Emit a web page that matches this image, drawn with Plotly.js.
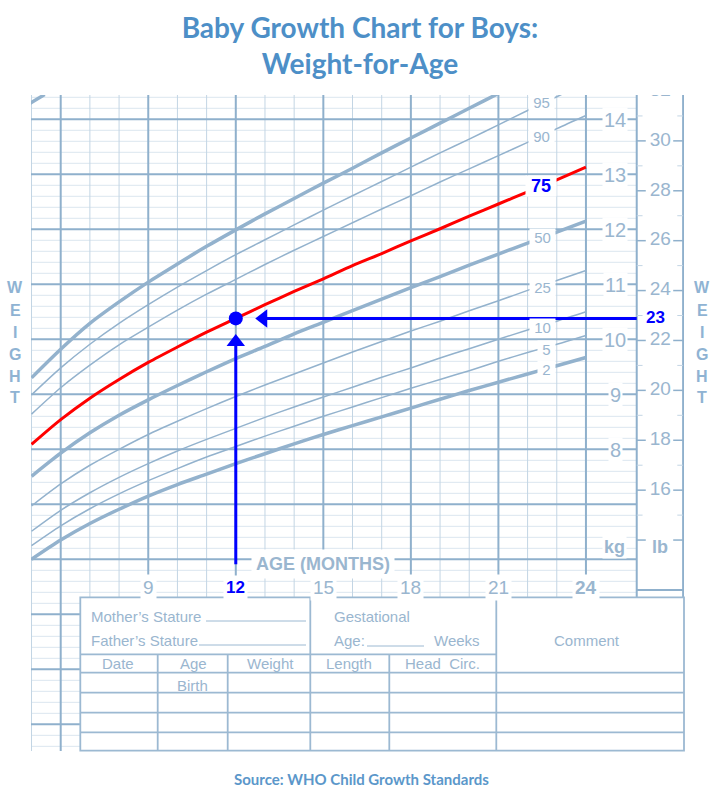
<!DOCTYPE html>
<html>
<head>
<meta charset="utf-8">
<script src="https://cdn.plot.ly/plotly-3.0.1.min.js"></script>
<style>
  html, body { margin: 0; padding: 0; background: #fff; }
  #chart { width: 720px; height: 807px; }
</style>
</head>
<body>
<div id="chart"></div>
<script>
// WHO weight-for-age, boys, kg by month
const ages = [5, 6, 7, 8, 9, 10, 11, 12, 13, 14, 15, 16, 17, 18, 19, 20, 21, 22, 23, 24];
const p2  = [6.00, 6.35, 6.65, 6.91, 7.15, 7.36, 7.55, 7.74, 7.92, 8.10, 8.27, 8.43, 8.59, 8.75, 8.91, 9.07, 9.22, 9.37, 9.52, 9.67];
const p5  = [6.25, 6.61, 6.92, 7.19, 7.43, 7.65, 7.86, 8.05, 8.24, 8.42, 8.60, 8.77, 8.94, 9.11, 9.27, 9.43, 9.60, 9.76, 9.91, 10.07];
const p10 = [6.51, 6.89, 7.21, 7.49, 7.74, 7.97, 8.18, 8.38, 8.58, 8.77, 8.95, 9.13, 9.31, 9.48, 9.66, 9.83, 10.00, 10.17, 10.33, 10.50];
const p25 = [6.97, 7.37, 7.71, 8.00, 8.27, 8.51, 8.74, 8.96, 9.17, 9.37, 9.57, 9.77, 9.96, 10.15, 10.33, 10.52, 10.70, 10.89, 11.07, 11.25];
const p50 = [7.51, 7.93, 8.30, 8.62, 8.90, 9.16, 9.41, 9.65, 9.87, 10.10, 10.31, 10.52, 10.73, 10.94, 11.14, 11.35, 11.55, 11.75, 11.95, 12.15];
const p75 = [8.09, 8.54, 8.93, 9.27, 9.58, 9.86, 10.13, 10.38, 10.63, 10.87, 11.10, 11.34, 11.56, 11.79, 12.01, 12.24, 12.46, 12.68, 12.90, 13.13];
const p90 = [8.64, 9.12, 9.53, 9.90, 10.22, 10.53, 10.82, 11.09, 11.36, 11.62, 11.87, 12.12, 12.37, 12.61, 12.86, 13.10, 13.34, 13.58, 13.83, 14.07];
const p95 = [8.99, 9.48, 9.91, 10.29, 10.63, 10.95, 11.25, 11.54, 11.81, 12.08, 12.35, 12.61, 12.87, 13.13, 13.39, 13.64, 13.90, 14.16, 14.41, 14.67];
const p98 = [9.30, 9.82, 10.29, 10.68, 11.04, 11.37, 11.69, 11.99, 12.28, 12.56, 12.84, 13.11, 13.39, 13.66, 13.93, 14.20, 14.47, 14.74, 15.01, 15.28];

// cropped bit of a curve from the chart above, top-left corner
const edgeAges = [4.95, 5.45];
const edgeKgs = [14.29, 14.45];

const pctLabels = ['95', '90', '75', '50', '25', '10', '5', '2'];
const pctLabelAges = [22.47, 22.47, 22.45, 22.5, 22.5, 22.5, 22.65, 22.65];
const pctLabelKgs = [14.30, 13.68, 12.79, 11.86, 10.95, 10.21, 9.82, 9.46];

const ageTicks = [9, 12, 15, 18, 21, 24];
const kgTicks = [8, 9, 10, 11, 12, 13, 14];
const lbTicks = [16, 18, 20, 22, 24, 26, 28, 30, 32];

// the example reading: 12 months, 23 lb
const pointAge = 12;
const pointKg = 10.38;
const pointLb = 23;

const LB = 0.45359237;

// plot area in page pixels
const PL = 31, PR = 684, PT = 95, PB = 751;
const X_MIN = 4.982, X_MAX = 27.36, X_KG = 25.74, X_LB_END = 27.33;
const Y_MIN = 2.515, Y_MAX = 14.442;

const MAJOR = '#8fb0cc';
const MINOR_V = '#c3d5e4';
const MINOR_H = '#dbe6ef';
const CURVE = '#93b2cd';
const TXT = '#9ab6cf';
const BLUE = '#0000ff';
const RED = '#ff0000';
const SANS = 'Liberation Sans, Arial, sans-serif';
const NB = '\u00a0';

const px = v => (v - PL) / (PR - PL);
const py = v => (PB - v) / (PB - PT);

function dataLine(x0, y0, x1, y1, color, width) {
  return { type: 'line', xref: 'x', yref: 'y', x0, y0, x1, y1, line: { color, width }, layer: 'below' };
}

function tableLine(x0, y0, x1, y1, width) {
  return {
    type: 'line', xref: 'paper', yref: 'paper',
    x0: px(x0), y0: py(y0), x1: px(x1), y1: py(y1),
    line: { color: '#9cb9d2', width: width || 1.8 }, layer: 'above'
  };
}

function label(opts) {
  return Object.assign({ showarrow: false, xanchor: 'center', yanchor: 'middle' }, opts);
}

function buildShapes() {
  const shapes = [];

  // light horizontal lines every 0.2 kg
  for (let k = 13; k <= 72; k++) {
    if (k % 5 === 0) continue;
    shapes.push(dataLine(X_MIN, k / 5, X_KG, k / 5, MINOR_H, 1));
  }
  // monthly verticals
  for (let m = 5; m <= 24; m++) {
    if (m % 3 === 0) continue;
    shapes.push(dataLine(m, Y_MIN, m, Y_MAX, MINOR_V, 1));
  }
  // heavy kg lines
  for (let kg = 3; kg <= 14; kg++) {
    shapes.push(dataLine(X_MIN, kg, X_KG, kg, MAJOR, 2));
  }
  // heavy 3-month lines
  for (let m = 6; m <= 24; m += 3) {
    shapes.push(dataLine(m, Y_MIN, m, Y_MAX, MAJOR, 2));
  }
  // kg / lb column borders
  shapes.push(dataLine(X_KG, Y_MIN, X_KG, Y_MAX, MAJOR, 2));
  shapes.push(dataLine(X_LB_END, Y_MIN, X_LB_END, Y_MAX, MAJOR, 2));
  shapes.push(dataLine(X_KG, 5.44, X_LB_END, 5.44, MAJOR, 2));

  // lb ticks
  for (let lb = 14; lb <= 32; lb += 2) {
    shapes.push(dataLine(X_KG, lb * LB, X_KG + 0.31, lb * LB, MAJOR, 1.5));
    shapes.push(dataLine(X_LB_END - 0.34, lb * LB, X_LB_END, lb * LB, MAJOR, 1.5));
  }
  for (let lb = 15; lb <= 31; lb += 2) {
    shapes.push(dataLine(X_KG, lb * LB, X_KG + 0.2, lb * LB, MINOR_V, 1));
    shapes.push(dataLine(X_LB_END - 0.2, lb * LB, X_LB_END, lb * LB, MINOR_V, 1));
  }

  // record table
  shapes.push({
    type: 'rect', xref: 'paper', yref: 'paper',
    x0: px(80.3), y0: py(750.7), x1: px(684), y1: py(597.3),
    fillcolor: 'white', line: { color: '#9cb9d2', width: 1.8 }, layer: 'above'
  });
  shapes.push(tableLine(80.3, 654.3, 496.3, 654.3));
  [672.7, 692.7, 712.7, 732.3].forEach(y => shapes.push(tableLine(80.3, y, 684, y)));
  [157.7, 227.7, 389.3].forEach(x => shapes.push(tableLine(x, 654.3, x, 750.7)));
  [310.3, 496.3].forEach(x => shapes.push(tableLine(x, 597.3, x, 750.7)));
  shapes.push(tableLine(206, 621, 306, 621, 1));
  shapes.push(tableLine(199, 645, 306, 645, 1));
  shapes.push(tableLine(367, 646, 424, 646, 1));

  return shapes;
}

function buildTraces() {
  const specs = [
    { y: p98, w: 3.5 }, { y: p95, w: 1.5 }, { y: p90, w: 1.5 }, { y: p50, w: 3.5 },
    { y: p25, w: 1.5 }, { y: p10, w: 1.5 }, { y: p5, w: 1.5 }, { y: p2, w: 3.5 }
  ];
  const traces = specs.map(s => ({
    type: 'scatter', mode: 'lines', x: ages, y: s.y,
    line: { color: CURVE, width: s.w, shape: 'spline', smoothing: 0.8 },
    hoverinfo: 'skip'
  }));

  traces.push({
    type: 'scatter', mode: 'lines', x: edgeAges, y: edgeKgs,
    line: { color: CURVE, width: 3.5 }, hoverinfo: 'skip'
  });

  traces.push({
    type: 'scatter', mode: 'lines', x: ages, y: p75,
    line: { color: RED, width: 3, shape: 'spline', smoothing: 0.8 },
    hoverinfo: 'skip'
  });

  // lb labels as a text trace so the top one is clipped like the original
  traces.push({
    type: 'scatter', mode: 'text',
    x: lbTicks.map(() => 26.55), y: lbTicks.map(lb => lb * LB),
    text: lbTicks.map(String),
    textposition: 'middle center',
    textfont: { family: SANS, size: 19, color: TXT },
    hoverinfo: 'skip'
  });

  // arrows pointing at the reading
  traces.push({
    type: 'scatter', mode: 'lines',
    x: [pointAge, pointAge], y: [5.91, pointKg - 0.5],
    line: { color: BLUE, width: 3 }, hoverinfo: 'skip'
  });
  traces.push({
    type: 'scatter', mode: 'lines',
    x: [pointAge + 1.07, X_KG], y: [pointKg, pointKg],
    line: { color: BLUE, width: 3 }, hoverinfo: 'skip'
  });
  traces.push({
    type: 'scatter', mode: 'markers',
    x: [pointAge], y: [pointKg - 0.43],
    marker: { symbol: 'triangle-up', size: 16, color: BLUE }, hoverinfo: 'skip'
  });
  traces.push({
    type: 'scatter', mode: 'markers',
    x: [pointAge + 0.94], y: [pointKg],
    marker: { symbol: 'triangle-left', size: 16, color: BLUE }, hoverinfo: 'skip'
  });
  traces.push({
    type: 'scatter', mode: 'markers',
    x: [pointAge], y: [pointKg],
    marker: { symbol: 'circle', size: 14, color: BLUE }, hoverinfo: 'skip'
  });

  return traces;
}

function buildAnnotations() {
  const ann = [];

  pctLabels.forEach((t, i) => {
    const hot = t === '75';
    ann.push(label({
      x: pctLabelAges[i], y: pctLabelKgs[i], xref: 'x', yref: 'y',
      text: hot ? '<b>' + NB + t + NB + '</b>' : NB + t + NB,
      font: { family: SANS, size: hot ? 18 : 15, color: hot ? BLUE : TXT },
      bgcolor: 'white', borderpad: 0
    }));
  });

  kgTicks.forEach(kg => {
    ann.push(label({
      x: 25.0, y: kg, xref: 'x', yref: 'y', yshift: -1,
      text: String(kg),
      font: { family: SANS, size: 20, color: TXT },
      bgcolor: 'white', borderpad: 1
    }));
  });

  ageTicks.forEach(a => {
    const hot = a === pointAge;
    ann.push(label({
      x: a, y: 5.49, xref: 'x', yref: 'y',
      text: hot || a === 24 ? '<b>' + a + '</b>' : String(a),
      font: { family: SANS, size: hot ? 17 : 19, color: hot ? BLUE : TXT },
      bgcolor: 'white', borderpad: 2
    }));
  });

  ann.push(label({
    x: 26.40, y: pointKg + 0.02, xref: 'x', yref: 'y',
    text: '<b>' + pointLb + '</b>',
    font: { family: SANS, size: 17, color: BLUE }, bgcolor: 'white', borderpad: 1
  }));

  ann.push(label({
    x: 15, y: 5.956, xref: 'x', yref: 'y', yshift: -2,
    text: '<b>AGE (MONTHS)</b>',
    font: { family: SANS, size: 18, color: TXT }, bgcolor: 'white', borderpad: 4
  }));
  ann.push(label({
    x: 24.97, y: 6.22, xref: 'x', yref: 'y',
    text: '<b>kg</b>',
    font: { family: SANS, size: 18, color: TXT }, bgcolor: 'white', borderpad: 1
  }));
  ann.push(label({
    x: 26.55, y: 6.22, xref: 'x', yref: 'y',
    text: '<b>lb</b>',
    font: { family: SANS, size: 18, color: TXT }, bgcolor: 'white', borderpad: 1
  }));

  const letters = ['W', 'E', 'I', 'G', 'H', 'T'];
  const letterY = [287, 310, 332, 354, 376, 397];
  letters.forEach((l, i) => {
    [15, 702].forEach(x => ann.push(label({
      x: px(x), y: py(letterY[i]), xref: 'paper', yref: 'paper',
      text: '<b>' + l + '</b>',
      font: { family: SANS, size: 16, color: '#8fb3d3' }
    })));
  });

  // table text: [text, x, y, anchor]
  const cells = [
    ['Mother\u2019s Stature', 89, 616, 'left'],
    ['Father\u2019s Stature', 89, 640, 'left'],
    ['Gestational', 332, 616, 'left'],
    ['Age:', 332, 640, 'left'],
    ['Weeks', 432, 640, 'left'],
    ['Comment', 587, 640, 'center'],
    ['Date', 117.5, 663, 'center'],
    ['Age', 193, 663, 'center'],
    ['Weight', 270, 663, 'center'],
    ['Length', 349, 663, 'center'],
    ['Head' + NB + ' Circ.', 442, 663, 'center'],
    ['Birth', 192, 685, 'center']
  ];
  cells.forEach(c => ann.push(label({
    x: px(c[1]), y: py(c[2]), xref: 'paper', yref: 'paper',
    xanchor: c[3], text: c[0],
    font: { family: SANS, size: 15, color: TXT }
  })));

  ann.push(label({
    x: px(361), y: py(779), xref: 'paper', yref: 'paper',
    text: '<b>Source: WHO Child Growth Standards</b>',
    font: { family: 'Lato, sans-serif', size: 15, color: '#5b97ca' }
  }));

  return ann;
}

const layout = {
  width: 720,
  height: 807,
  margin: { l: PL, r: 720 - PR, t: PT, b: 807 - PB },
  paper_bgcolor: 'white',
  plot_bgcolor: 'white',
  showlegend: false,
  title: {
    text: '<b>Baby Growth Chart for Boys:<br>Weight-for-Age</b>',
    font: { family: 'Lato, sans-serif', size: 28, color: '#4d8fc7' },
    x: 0.5, xref: 'container', xanchor: 'center',
    y: 1 - 38 / 807, yref: 'container', yanchor: 'middle'
  },
  xaxis: { range: [X_MIN, X_MAX], showgrid: false, zeroline: false, showticklabels: false, ticks: '', showline: false },
  yaxis: { range: [Y_MIN, Y_MAX], showgrid: false, zeroline: false, showticklabels: false, ticks: '', showline: false },
  shapes: buildShapes(),
  annotations: buildAnnotations()
};

Plotly.newPlot('chart', buildTraces(), layout, { displayModeBar: false, staticPlot: true });
</script>
</body>
</html>
